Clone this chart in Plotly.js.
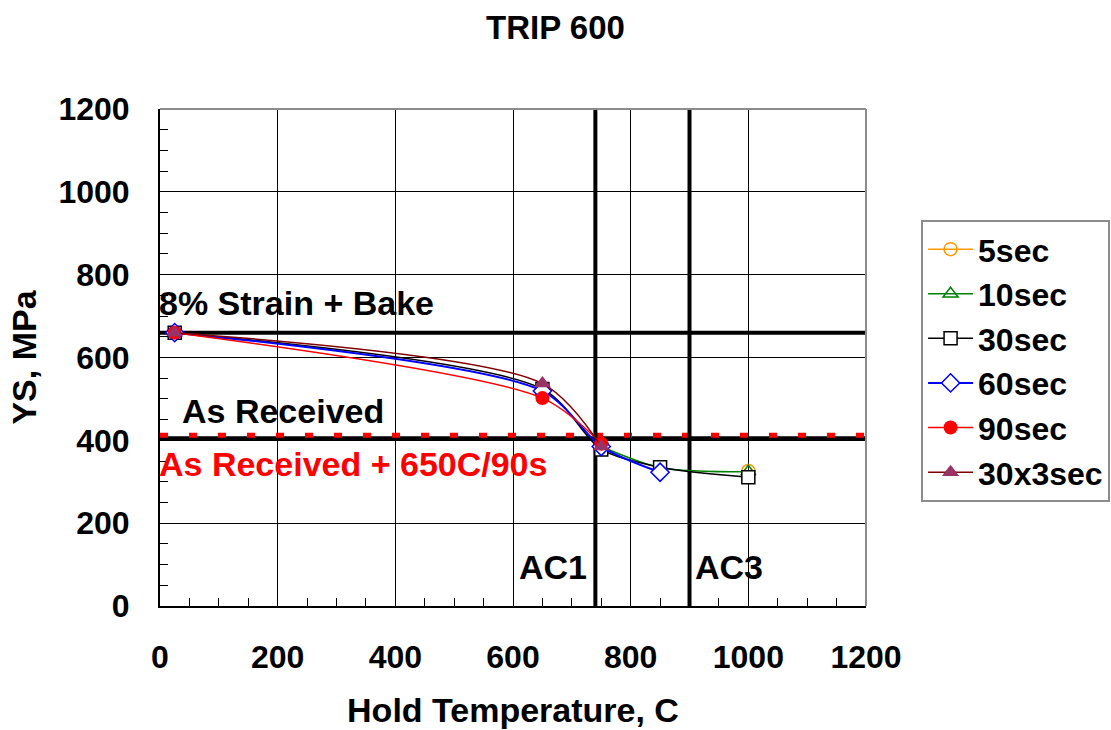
<!DOCTYPE html>
<html>
<head>
<meta charset="utf-8">
<script src="https://cdn.plot.ly/plotly-3.0.1.min.js"></script>
<style>html,body{margin:0;padding:0;background:#fff;}#chart{width:1111px;height:730px;}</style>
</head>
<body>
<div id="chart"></div>
<script>
// ---- data ----
const seriesNames = ["5sec", "10sec", "30sec", "60sec", "90sec", "30x3sec"];
const x5 = [1000];
const y5 = [326];
const x10 = [750, 850, 1000];
const y10 = [385, 334, 324];
const x30 = [25, 650, 750, 850, 1000];
const y30 = [660, 524, 378, 335, 311];
const x60 = [25, 650, 750, 850];
const y60 = [660, 519, 385, 323];
const x90 = [25, 650, 750];
const y90 = [660, 502, 392];
const x30x3 = [25, 650, 750];
const y30x3 = [660, 537, 385];

// reference levels
const strainBakeYS = 660;
const asReceivedYS = 405;
const asReceived650YS = 412;
const ac1Temp = 740;
const ac3Temp = 900;

const F = "Liberation Sans, Arial, sans-serif";
const sm = 0.8;

const traces = [
  {name: seriesNames[0], x: x5, y: y5, mode: "lines+markers",
   line: {color: "#FF9900", width: 1.5, shape: "spline", smoothing: sm},
   marker: {symbol: "circle-open", size: 13, color: "#FF9900", line: {width: 1.5}}},
  {name: seriesNames[1], x: x10, y: y10, mode: "lines+markers",
   line: {color: "#008000", width: 1.5, shape: "spline", smoothing: sm},
   marker: {symbol: "triangle-up-open", size: 13, color: "#008000", line: {width: 1.5}}},
  {name: seriesNames[2], x: x30, y: y30, mode: "lines+markers",
   line: {color: "#000000", width: 1.5, shape: "spline", smoothing: sm},
   marker: {symbol: "square", size: 13, color: "#FFFFFF", line: {color: "#000000", width: 1.5}}},
  {name: seriesNames[3], x: x60, y: y60, mode: "lines+markers",
   line: {color: "#0000FF", width: 2, shape: "spline", smoothing: sm},
   marker: {symbol: "diamond", size: 14, color: "#FFFFFF", line: {color: "#0000FF", width: 1.5}}},
  {name: seriesNames[4], x: x90, y: y90, mode: "lines+markers",
   line: {color: "#FF0000", width: 1.5, shape: "spline", smoothing: sm},
   marker: {symbol: "circle", size: 14, color: "#FF0000"}},
  {name: seriesNames[5], x: x30x3, y: y30x3, mode: "lines+markers",
   line: {color: "#800000", width: 1.5, shape: "spline", smoothing: sm},
   marker: {symbol: "triangle-up", size: 15, color: "#993366"}}
];

const shapes = [
  {type: "line", xref: "paper", x0: 0, x1: 1, yref: "y", y0: strainBakeYS, y1: strainBakeYS, line: {color: "#000", width: 4}, layer: "below"},
  {type: "line", xref: "paper", x0: 0, x1: 1, yref: "y", y0: asReceivedYS, y1: asReceivedYS, line: {color: "#000", width: 4}, layer: "below"},
  {type: "line", xref: "paper", x0: 0, x1: 1, yref: "y", y0: asReceived650YS, y1: asReceived650YS, line: {color: "#FF0000", width: 5, dash: "8px,21px"}, layer: "below"},
  {type: "line", xref: "x", x0: ac1Temp, x1: ac1Temp, yref: "paper", y0: 0, y1: 1, line: {color: "#000", width: 4}, layer: "below"},
  {type: "line", xref: "x", x0: ac3Temp, x1: ac3Temp, yref: "paper", y0: 0, y1: 1, line: {color: "#000", width: 4}, layer: "below"},
  {type: "line", xref: "paper", x0: 0, x1: 1, yref: "paper", y0: 1, y1: 1, line: {color: "#8c8c8c", width: 2}, layer: "above"},
  {type: "line", xref: "paper", x0: 1, x1: 1, yref: "paper", y0: 0, y1: 1, line: {color: "#8c8c8c", width: 2}, layer: "above"}
];

const annFont = {family: F, size: 34, weight: "bold", color: "#000"};
const annotations = [
  {text: "8% Strain + Bake", x: 0, y: 731, xref: "x", yref: "y", xanchor: "left", yanchor: "middle", showarrow: false, font: annFont, xshift: -3},
  {text: "As Received", x: 39, y: 470, xref: "x", yref: "y", xanchor: "left", yanchor: "middle", showarrow: false, font: annFont, xshift: -3},
  {text: "As Received + 650C/90s", x: 0, y: 343, xref: "x", yref: "y", xanchor: "left", yanchor: "middle", showarrow: false, font: Object.assign({}, annFont, {color: "#FF0000"}), xshift: -3},
  {text: "AC1", x: 668, y: 94, xref: "x", yref: "y", xanchor: "center", yanchor: "middle", showarrow: false, font: annFont},
  {text: "AC3", x: 967, y: 94, xref: "x", yref: "y", xanchor: "center", yanchor: "middle", showarrow: false, font: annFont}
];

const tickFont = {family: F, size: 32, weight: "bold", color: "#000"};

const layout = {
  width: 1111, height: 730,
  margin: {l: 160, r: 245, t: 109, b: 124, pad: 0, autoexpand: false},
  paper_bgcolor: "#fff", plot_bgcolor: "#fff",
  title: {text: "TRIP 600", x: 0.5, xref: "container", y: 0.963, yref: "container", yanchor: "middle",
          font: {family: F, size: 33, weight: "bold", color: "#000"}},
  xaxis: {range: [0, 1200], dtick: 200, tick0: 0, showgrid: true, gridcolor: "#000", gridwidth: 1,
          zeroline: false, showline: true, linecolor: "#000", linewidth: 2,
          ticks: "inside", ticklen: 8, tickcolor: "#000", tickwidth: 1,
          minor: {dtick: 50, ticks: "inside", ticklen: 8, tickcolor: "#000", tickwidth: 1, showgrid: false},
          tickfont: tickFont, ticklabelstandoff: 22,
          title: {text: "Hold Temperature, C", font: {family: F, size: 34, weight: "bold", color: "#000"}, standoff: 24}},
  yaxis: {range: [0, 1200], dtick: 200, tick0: 0, showgrid: true, gridcolor: "#000", gridwidth: 1,
          zeroline: false, showline: true, linecolor: "#000", linewidth: 2,
          ticks: "inside", ticklen: 8, tickcolor: "#000", tickwidth: 1,
          minor: {dtick: 50, ticks: "inside", ticklen: 8, tickcolor: "#000", tickwidth: 1, showgrid: false},
          tickfont: tickFont, ticklabelstandoff: 22,
          title: {text: "YS, MPa", font: {family: F, size: 34, weight: "bold", color: "#000"}, standoff: 12}},
  showlegend: true,
  legend: {x: 1.078, y: 0.777, xanchor: "left", yanchor: "top", xref: "paper", yref: "paper",
           bgcolor: "#fff", bordercolor: "#8c8c8c", borderwidth: 2, itemwidth: 45,
           font: {family: F, size: 32, weight: "bold", color: "#000"}, tracegroupgap: 0},
  shapes: shapes,
  annotations: annotations
};

Plotly.newPlot("chart", traces, layout, {displayModeBar: false, staticPlot: true});
</script>
</body>
</html>
